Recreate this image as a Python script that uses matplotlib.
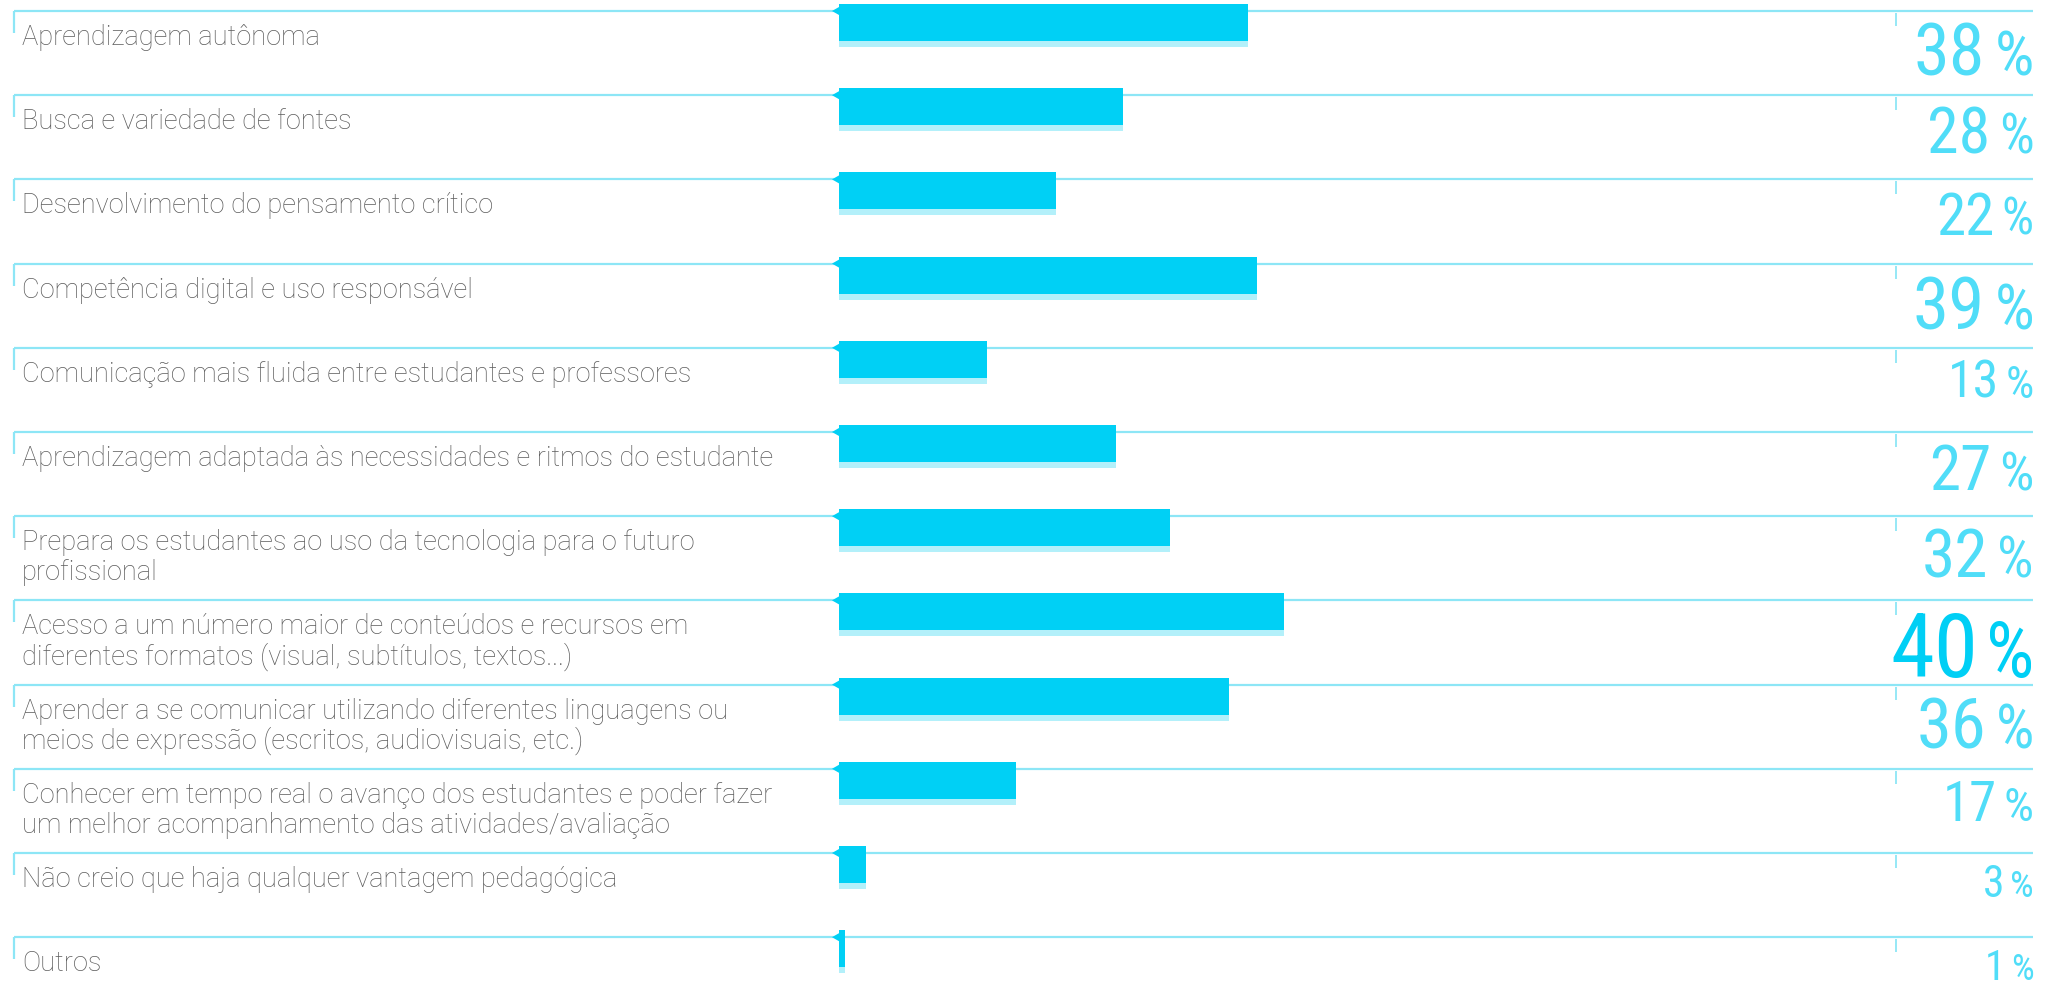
import matplotlib
matplotlib.use("Agg")
import matplotlib.pyplot as plt
from matplotlib import font_manager as fm
from matplotlib.font_manager import FontProperties
from matplotlib.textpath import TextPath
from matplotlib.patches import Polygon
import numpy as np

# ---------------- data ----------------
categories = [
    "Aprendizagem autônoma",
    "Busca e variedade de fontes",
    "Desenvolvimento do pensamento crítico",
    "Competência digital e uso responsável",
    "Comunicação mais fluida entre estudantes e professores",
    "Aprendizagem adaptada às necessidades e ritmos do estudante",
    "Prepara os estudantes ao uso da tecnologia para o futuro\nprofissional",
    "Acesso a um número maior de conteúdos e recursos em\ndiferentes formatos (visual, subtítulos, textos...)",
    "Aprender a se comunicar utilizando diferentes linguagens ou\nmeios de expressão (escritos, audiovisuais, etc.)",
    "Conhecer em tempo real o avanço dos estudantes e poder fazer\num melhor acompanhamento das atividades/avaliação",
    "Não creio que haja qualquer vantagem pedagógica",
    "Outros",
]
percent_labels = [38, 28, 22, 39, 13, 27, 32, 40, 36, 17, 3, 1]
bar_values = [38.7, 26.9, 20.5, 39.5, 14.0, 26.2, 31.3, 42.1, 36.9, 16.7, 2.6, 0.6]

# ---------------- style ----------------
W, H, DPI = 2054, 984, 100
ROW_PX = 84.2      # distance between row rules (px)
TOP_PX = 11        # first rule position (px)
BAR0_PX = 839      # bar origin (px)
AX100_PX = 1896    # position of the 100 mark (px)
SCALE_PX = (AX100_PX - BAR0_PX) / 100.0
LINE_STEP_PX = 30  # baseline distance for wrapped labels

BAR_C = "#00D0F5"
STRIP_C = "#B3F0FA"
RULE_C = "#8DE6F6"
LABEL_C = "#5C5C5C"
NUM_C = "#50DDF8"
NUM_MAX_C = "#00CFF5"

ttf = fm.fontManager.ttflist
names = {f.name for f in ttf}
if any(f.name == "Roboto" and f.weight in (300, "light") for f in ttf):
    LABEL_FONT, LABEL_WEIGHT = "Roboto", "light"
elif "Lato" in names:
    LABEL_FONT, LABEL_WEIGHT = "Lato", "normal"
else:
    LABEL_FONT, LABEL_WEIGHT = "DejaVu Sans", "normal"
NUM_FAMILY, NUM_STRETCH = "DejaVu Sans", "normal"
for cand in ["Roboto Condensed", "Open Sans Condensed", "Liberation Sans Narrow"]:
    if cand in names:
        NUM_FAMILY = cand
        break
else:
    if any(f.name == "DejaVu Sans" and f.stretch == "condensed" for f in ttf):
        NUM_STRETCH = "condensed"

fig = plt.figure(figsize=(W / DPI, H / DPI), dpi=DPI)
ax = fig.add_axes([0, 0, 1, 1])
ax.axis("off")
n = len(categories)
rows = np.arange(n)
ax.set_xlim(-BAR0_PX / SCALE_PX, (W - BAR0_PX) / SCALE_PX)
ax.set_ylim((H - TOP_PX) / ROW_PX, -TOP_PX / ROW_PX)
ytr = ax.get_yaxis_transform()
py = 1.0 / ROW_PX  # one pixel in row units

# rules
ax.hlines(rows, 14 / W, 2033 / W, transform=ytr, color=RULE_C, lw=1.6, zorder=1)
ax.vlines(np.full(n, 14 / W), rows, rows + 22 * py, transform=ytr, color=RULE_C, lw=1.6, zorder=1)
ax.vlines(np.full(n, 100.0), rows + 2 * py, rows + 15 * py, color=RULE_C, lw=1.3, zorder=1)

# bars
ax.barh(rows - 7 * py, bar_values, height=37 * py, align="edge", left=0,
        color=BAR_C, lw=0, zorder=3)
ax.barh(rows + 30 * py, bar_values, height=6 * py, align="edge", left=0,
        color=STRIP_C, lw=0, zorder=3)
for r in rows:
    tri = Polygon([(-7 / SCALE_PX, r), (0, r - 4 * py), (0, r + 4 * py)],
                  closed=True, color=BAR_C, lw=0, zorder=3)
    ax.add_patch(tri)

# labels (one text per line so the first baseline stays fixed)
for r, cat in zip(rows, categories):
    for k, line in enumerate(cat.split("\n")):
        ax.text(22 / W, r + (34 + LINE_STEP_PX * k) * py, line, transform=ytr,
                ha="left", va="baseline", fontsize=19.6, family=LABEL_FONT,
                fontweight=LABEL_WEIGHT, color=LABEL_C)

# percentages
fp = FontProperties(family=NUM_FAMILY, stretch=NUM_STRETCH)
digit_ratio = TextPath((0, 0), "0123456789", size=100, prop=fp).get_extents().height / 100.0
renderer = fig.canvas.get_renderer()
vmax = max(percent_labels)
for r, v in zip(rows, percent_labels):
    is_max = v == vmax
    dh = 65 if is_max else 30 + 0.6 * v
    col = NUM_MAX_C if is_max else NUM_C
    base = r + (12 + dh) * py
    fs_num = dh / digit_ratio * 72 / DPI
    fs_pct = 0.86 * fs_num
    tp = ax.text(2034 / W, base, "%", transform=ytr, ha="right", va="baseline",
                 fontsize=fs_pct, family=NUM_FAMILY, fontstretch=NUM_STRETCH, color=col)
    x0 = tp.get_window_extent(renderer).x0
    gap = (0.12 if is_max else 0.18) * dh
    ax.text((x0 - gap) / W, base, f"{v}", transform=ytr, ha="right", va="baseline",
            fontsize=fs_num, family=NUM_FAMILY, fontstretch=NUM_STRETCH, color=col)

fig.savefig("out.png", dpi=DPI)
